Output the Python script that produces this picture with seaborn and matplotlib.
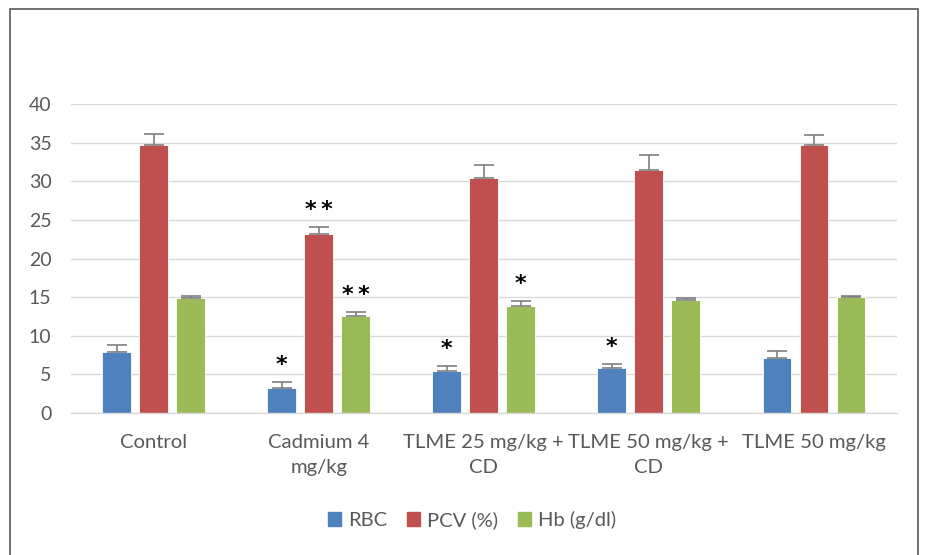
import numpy as np
import pandas as pd
import matplotlib.pyplot as plt
import seaborn as sns
from matplotlib.patches import Rectangle

# group labels as they appear under the x axis
groups = ["Control", "Cadmium 4\nmg/kg", "TLME 25 mg/kg +\nCD", "TLME 50 mg/kg +\nCD", "TLME 50 mg/kg"]
params = ["RBC", "PCV (%)", "Hb (g/dl)"]

rbc = [7.9, 3.2, 5.4, 5.8, 7.1]
pcv = [34.7, 23.2, 30.4, 31.4, 34.7]
hb = [14.9, 12.6, 13.9, 14.6, 15.0]

rbc_err = [0.9, 0.8, 0.7, 0.5, 0.95]
pcv_err = [1.4, 0.9, 1.7, 2.0, 1.35]
hb_err = [0.2, 0.5, 0.55, 0.3, 0.1]

rbc_sig = ["", "*", "*", "*", ""]
pcv_sig = ["", "*\u2009*", "", "", ""]
hb_sig = ["", "*\u2009*", "*", "", ""]

colors = ["#4F81BD", "#C0504D", "#9BBB59"]

df = pd.DataFrame({
    "group": groups * 3,
    "param": [p for p in params for _ in groups],
    "value": rbc + pcv + hb,
})

sns.set_style("white")
plt.rcParams["font.family"] = ["Lato", "DejaVu Sans"]

fig = plt.figure(figsize=(9.25, 5.55), dpi=100)
ax = fig.add_axes([71 / 925, 1 - 413 / 555, (896.5 - 71) / 925, (413 - 104) / 555])

sns.barplot(data=df, x="group", y="value", hue="param", palette=colors, saturation=1,
            width=0.672, gap=0.22, errorbar=None, edgecolor="white", linewidth=0.6,
            ax=ax, legend=False)

errs = [rbc_err, pcv_err, hb_err]
sigs = [rbc_sig, pcv_sig, hb_sig]
for cont, err, sig in zip(ax.containers, errs, sigs):
    xs = [b.get_x() + b.get_width() / 2 for b in cont]
    hs = [b.get_height() for b in cont]
    ax.errorbar(xs, hs, yerr=[np.zeros(len(err)), err], fmt="none",
                ecolor="#7F7F7F", elinewidth=1.2, capsize=7, capthick=1.2)
    for x, h, e, s in zip(xs, hs, err, sig):
        if s:
            ax.annotate(s, (x, h + e), xytext=(0, 5), textcoords="offset points",
                        ha="center", va="bottom", fontsize=16, fontweight="bold",
                        color="black", family="DejaVu Sans")

ax.set_ylim(0, 40)
ax.set_xlim(-0.5, 4.5)
ax.set_yticks(range(0, 41, 5))
ax.yaxis.grid(True, color="#D9D9D9", linewidth=1)
ax.set_axisbelow(True)
for s in ["top", "right", "left"]:
    ax.spines[s].set_visible(False)
ax.spines["bottom"].set_color("#D9D9D9")
ax.spines["bottom"].set_linewidth(1)
ax.tick_params(axis="y", length=0, labelsize=14, labelcolor="#595959", pad=14)
ax.tick_params(axis="x", length=0, labelsize=14.6, labelcolor="#595959", pad=15)
for lbl in ax.get_xticklabels():
    lbl.set_linespacing(1.6)
    lbl.set_verticalalignment("top")
ax.set_xlabel("")
ax.set_ylabel("")

handles = [Rectangle((0, 0), 1, 1, color=c) for c in colors]
fig.legend(handles, params, loc="center", bbox_to_anchor=(472 / 925, 1 - 520 / 555),
           ncol=3, frameon=False, handlelength=0.65, handleheight=0.65,
           columnspacing=1.0, handletextpad=0.35, fontsize=14.5, labelcolor="#595959")

# outer chart border
fig.patches.append(Rectangle((10 / 925, -0.02), (918 - 10) / 925, 1.02 - 9 / 555,
                             transform=fig.transFigure, fill=False,
                             edgecolor="#595959", linewidth=1.2))

fig.savefig("out.png", dpi=100)
plt.close(fig)
